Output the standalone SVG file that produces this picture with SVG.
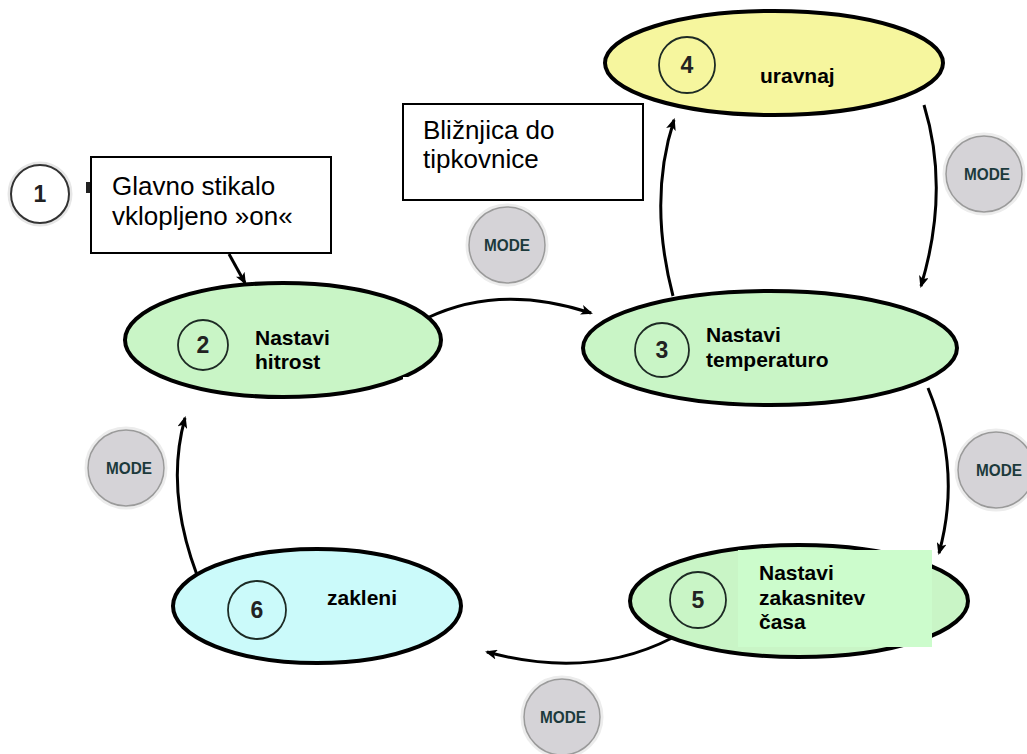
<svg xmlns="http://www.w3.org/2000/svg" width="1027" height="754" viewBox="0 0 1027 754">
<style>
.ell{stroke:#000;stroke-width:4}
.g{fill:#c9f5c6}
.num{fill:none;stroke:#1d2a24;stroke-width:1.8}
.numt{font-family:"Liberation Sans",Arial,sans-serif;font-weight:bold;font-size:23px;fill:#222;text-anchor:middle}
.lbl{font-family:"Liberation Sans",Arial,sans-serif;font-weight:bold;font-size:21px;fill:#000}
.call{fill:#fff;stroke:#000;stroke-width:2}
.callt{font-family:"Liberation Sans",Arial,sans-serif;font-size:26px;fill:#000}
.mode{fill:#d5d3d7;stroke:#9a9a9a;stroke-width:1.5}
.modering{fill:none;stroke:#ececec;stroke-width:3}
.modet{font-family:"Liberation Sans",Arial,sans-serif;font-weight:bold;font-size:17px;fill:#1c3a3c;text-anchor:middle}
.con{fill:none;stroke:#000;stroke-width:3}
</style>
<defs>
<marker id="ah" viewBox="0 0 12 10" refX="10" refY="5" markerWidth="12" markerHeight="10" markerUnits="userSpaceOnUse" orient="auto">
<path d="M0,0 L12,5 L0,10 L3,5 z" fill="#000"/>
</marker>
</defs>
<rect width="1027" height="754" fill="#fff"/>

<g id="node1">
<circle cx="40" cy="194" r="31" fill="none" stroke="#e6e6e6" stroke-width="3"/>
<circle cx="40" cy="194" r="29" fill="#fff" stroke="#333" stroke-width="2"/>
<text class="numt" x="40" y="202">1</text>
<rect x="86" y="182" width="5" height="11" fill="#222"/>
</g>

<g id="node4">
<ellipse class="ell" cx="774" cy="63" rx="169" ry="52" fill="#f6f69e"/>
<circle class="num" cx="687" cy="65" r="28"/>
<text class="numt" x="687" y="73">4</text>
<text class="lbl" x="760" y="83">uravnaj</text>
</g>

<g id="node2">
<ellipse class="ell g" cx="283" cy="340" rx="158" ry="57"/>
<rect x="403" y="377" width="45" height="26" fill="#fff"/>
<circle class="num" cx="203" cy="345" r="25"/>
<text class="numt" x="203" y="353">2</text>
<text class="lbl" x="255" y="345">Nastavi</text>
<text class="lbl" x="255" y="369">hitrost</text>
</g>

<g id="node3">
<ellipse class="ell g" cx="770" cy="348" rx="187" ry="57"/>
<circle class="num" cx="662" cy="350" r="27"/>
<text class="numt" x="662" y="358">3</text>
<text class="lbl" x="706" y="342">Nastavi</text>
<text class="lbl" x="706" y="367">temperaturo</text>
</g>

<g id="node5">
<ellipse class="ell g" cx="799" cy="601" rx="169" ry="56"/>
<rect x="738" y="550" width="194" height="97" fill="#ccfccc"/>
<circle class="num" cx="698" cy="600" r="28"/>
<text class="numt" x="698" y="608">5</text>
<text class="lbl" x="759" y="580">Nastavi</text>
<text class="lbl" x="759" y="605">zakasnitev</text>
<text class="lbl" x="759" y="629">časa</text>
</g>

<g id="node6">
<ellipse class="ell" cx="317" cy="606" rx="144" ry="57" fill="#cbfafa"/>
<circle class="num" cx="257" cy="610" r="29"/>
<text class="numt" x="257" y="618">6</text>
<text class="lbl" x="327" y="605">zakleni</text>
</g>

<g id="callout1">
<rect class="call" x="91" y="157" width="240" height="96"/>
<text class="callt" x="112" y="195">Glavno stikalo</text>
<text class="callt" x="112" y="225">vklopljeno »on«</text>
</g>

<g id="callout2">
<rect class="call" x="403" y="104" width="240" height="96"/>
<text class="callt" x="423" y="139">Bližnjica do</text>
<text class="callt" x="423" y="168">tipkovnice</text>
</g>

<g id="modes">
<g id="mode-top"><circle class="modering" cx="507" cy="245" r="40"/><circle class="mode" cx="507" cy="245" r="38"/><text class="modet" x="507" y="251" textLength="46" lengthAdjust="spacingAndGlyphs">MODE</text></g>
<g id="mode-right1"><circle class="modering" cx="984" cy="174" r="40"/><circle class="mode" cx="984" cy="174" r="38"/><text class="modet" x="987" y="180" textLength="46" lengthAdjust="spacingAndGlyphs">MODE</text></g>
<g id="mode-right2"><circle class="modering" cx="996" cy="470" r="40"/><circle class="mode" cx="996" cy="470" r="38"/><text class="modet" x="999" y="476" textLength="46" lengthAdjust="spacingAndGlyphs">MODE</text></g>
<g id="mode-left"><circle class="modering" cx="126" cy="468" r="40"/><circle class="mode" cx="126" cy="468" r="38"/><text class="modet" x="129" y="474" textLength="46" lengthAdjust="spacingAndGlyphs">MODE</text></g>
<g id="mode-bottom"><circle class="modering" cx="562" cy="717" r="40"/><circle class="mode" cx="562" cy="717" r="38"/><text class="modet" x="563" y="723" textLength="46" lengthAdjust="spacingAndGlyphs">MODE</text></g>
</g>

<g id="connectors">
<path class="con" d="M229 254 L245 283" marker-end="url(#ah)"/>
<path class="con" d="M427 318 Q500 283 591 313" marker-end="url(#ah)"/>
<path class="con" d="M673 296 Q648 200 674 120" marker-end="url(#ah)"/>
<path class="con" d="M924 105 Q950 190 921 286" marker-end="url(#ah)"/>
<path class="con" d="M928 388 Q962 470 939 553" marker-end="url(#ah)"/>
<path class="con" d="M672 638 Q590 680 487 652" marker-end="url(#ah)"/>
<path class="con" d="M197 575 Q165 490 185 418" marker-end="url(#ah)"/>
</g>
</svg>
